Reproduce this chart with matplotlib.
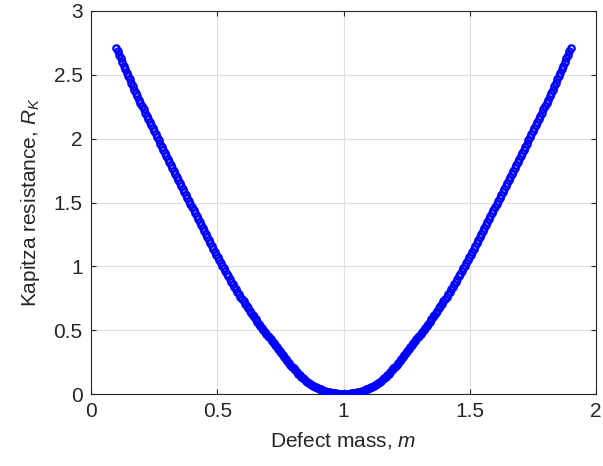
import numpy as np
import matplotlib
matplotlib.use('Agg')
import matplotlib.pyplot as plt

# defect mass grid: 0.1 .. 1.9, 301 points
m_start, m_stop, m_count = 0.1, 1.9, 301

# Kapitza resistance, m = 0.100 ... 0.994
rk_left = [
    2.710, 2.683, 2.655, 2.628, 2.600, 2.573, 2.546, 2.518, 2.491, 2.464,
    2.437, 2.410, 2.383, 2.357, 2.331, 2.306, 2.280, 2.255, 2.229, 2.204,
    2.180, 2.155, 2.130, 2.106, 2.082, 2.058, 2.034, 2.010, 1.986, 1.962,
    1.938, 1.915, 1.891, 1.868, 1.844, 1.821, 1.797, 1.774, 1.750, 1.727,
    1.703, 1.680, 1.656, 1.632, 1.609, 1.585, 1.561, 1.537, 1.513, 1.489,
    1.464, 1.440, 1.416, 1.392, 1.368, 1.344, 1.321, 1.297, 1.274, 1.250,
    1.227, 1.204, 1.182, 1.159, 1.137, 1.114, 1.092, 1.070, 1.048, 1.027,
    1.005, 0.984, 0.963, 0.942, 0.921, 0.901, 0.881, 0.861, 0.841, 0.821,
    0.801, 0.782, 0.763, 0.744, 0.725, 0.707, 0.689, 0.671, 0.653, 0.635,
    0.618, 0.601, 0.584, 0.567, 0.551, 0.535, 0.519, 0.503, 0.488, 0.473,
    0.458, 0.443, 0.428, 0.412, 0.397, 0.381, 0.366, 0.350, 0.334, 0.319,
    0.303, 0.288, 0.273, 0.258, 0.243, 0.228, 0.214, 0.200, 0.186, 0.173,
    0.160, 0.148, 0.136, 0.125, 0.114, 0.104, 0.094, 0.085, 0.077, 0.070,
    0.063, 0.057, 0.051, 0.046, 0.040, 0.036, 0.031, 0.027, 0.023, 0.019,
    0.016, 0.013, 0.010, 0.008, 0.006, 0.004, 0.003, 0.001, 0.001, 0.000,
]
# m = 1.000 ... 1.900
rk_right = [
    0.000,
    0.000, 0.001, 0.001, 0.003, 0.004, 0.006, 0.008, 0.010, 0.013, 0.016,
    0.019, 0.023, 0.027, 0.031, 0.036, 0.040, 0.046, 0.051, 0.057, 0.063,
    0.070, 0.077, 0.085, 0.094, 0.104, 0.114, 0.125, 0.136, 0.148, 0.160,
    0.173, 0.186, 0.200, 0.214, 0.228, 0.243, 0.258, 0.273, 0.288, 0.303,
    0.319, 0.334, 0.350, 0.366, 0.381, 0.397, 0.412, 0.428, 0.443, 0.458,
    0.473, 0.488, 0.503, 0.519, 0.535, 0.551, 0.567, 0.584, 0.601, 0.618,
    0.635, 0.653, 0.671, 0.689, 0.707, 0.725, 0.744, 0.763, 0.782, 0.801,
    0.821, 0.841, 0.861, 0.881, 0.901, 0.921, 0.942, 0.963, 0.984, 1.005,
    1.027, 1.048, 1.070, 1.092, 1.114, 1.137, 1.159, 1.182, 1.204, 1.227,
    1.250, 1.274, 1.297, 1.321, 1.344, 1.368, 1.392, 1.416, 1.440, 1.464,
    1.489, 1.513, 1.537, 1.561, 1.585, 1.609, 1.632, 1.656, 1.680, 1.703,
    1.727, 1.750, 1.774, 1.797, 1.821, 1.844, 1.868, 1.891, 1.915, 1.938,
    1.962, 1.986, 2.010, 2.034, 2.058, 2.082, 2.106, 2.130, 2.155, 2.180,
    2.204, 2.229, 2.255, 2.280, 2.306, 2.331, 2.357, 2.383, 2.410, 2.437,
    2.464, 2.491, 2.518, 2.546, 2.573, 2.600, 2.628, 2.655, 2.683, 2.710,
]

x_ticks = [0, 0.5, 1, 1.5, 2]
x_ticklabels = ['0', '0.5', '1', '1.5', '2']
y_ticks = [0, 0.5, 1, 1.5, 2, 2.5, 3]
y_ticklabels = ['0', '0.5', '1', '1.5', '2', '2.5', '3']

plt.rcParams['font.family'] = ['Liberation Sans', 'DejaVu Sans']
plt.rcParams['mathtext.fontset'] = 'custom'
plt.rcParams['mathtext.rm'] = 'Liberation Sans'
plt.rcParams['mathtext.it'] = 'Liberation Sans:italic'

axcol = (0.15, 0.15, 0.15)

m = np.linspace(m_start, m_stop, m_count)
rk = np.array(rk_left + rk_right)

fig = plt.figure(figsize=(6.03, 4.66), dpi=100)
ax = fig.add_axes([91 / 603, (466 - 394) / 466, (596 - 91) / 603, (394 - 11) / 466])

ax.plot(m, rk, 'o', color=(0, 0, 1), markerfacecolor='none',
        markersize=4.6, markeredgewidth=1.6, zorder=3)

ax.set_xlim(0, 2)
ax.set_ylim(0, 3)
ax.set_xticks(x_ticks)
ax.set_xticklabels(x_ticklabels)
ax.set_yticks(y_ticks)
ax.set_yticklabels(y_ticklabels)

ax.grid(True, color=(0.87, 0.87, 0.87), linewidth=0.8)
ax.set_axisbelow(True)
for s in ax.spines.values():
    s.set_color(axcol)
    s.set_linewidth(0.8)
ax.tick_params(direction='in', length=3.5, width=0.8, colors=axcol,
               labelsize=15, top=True, right=True, pad=6)

ax.set_xlabel('Defect mass, $m$', fontsize=15, color=axcol, labelpad=6)
ax.set_ylabel('Kapitza resistance, $R_K$', fontsize=15, color=axcol, labelpad=8)

fig.savefig('out.png', dpi=100)
